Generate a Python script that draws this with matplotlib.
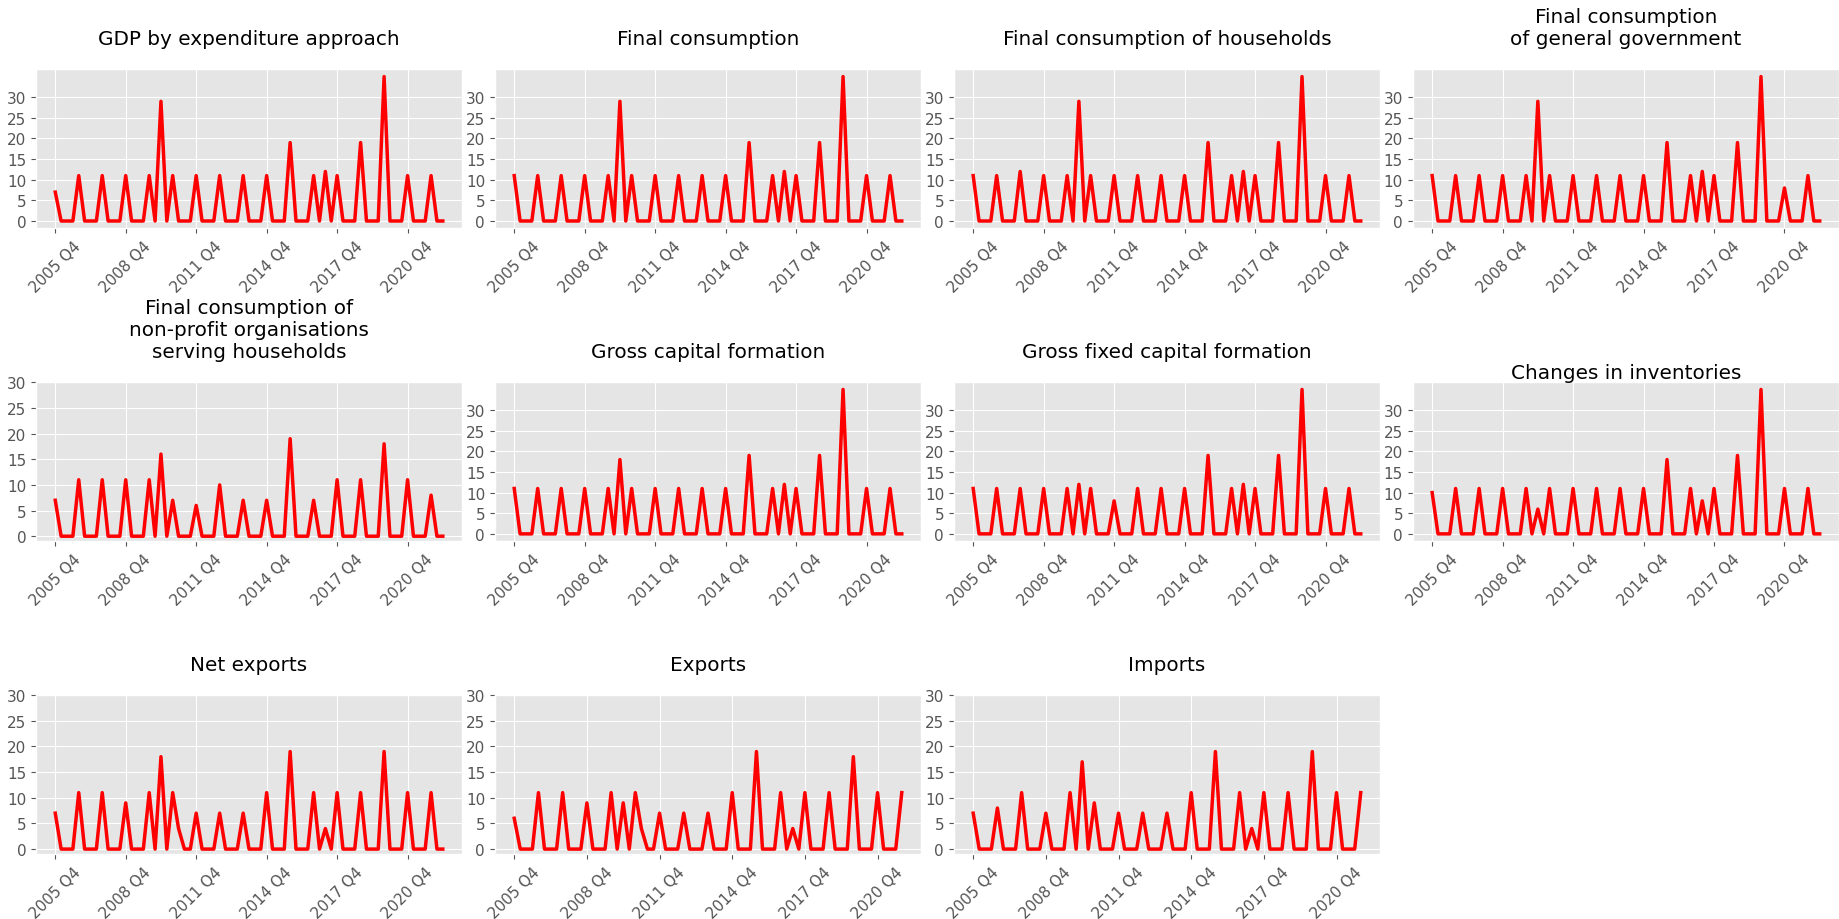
import matplotlib
matplotlib.use("Agg")
import matplotlib.pyplot as plt

plt.style.use("ggplot")

# quarterly series, first point is 2005 Q4
gdp = [7, 0, 0, 0, 11, 0, 0, 0, 11, 0, 0, 0, 11, 0, 0, 0, 11, 0, 29, 0,
       11, 0, 0, 0, 11, 0, 0, 0, 11, 0, 0, 0, 11, 0, 0, 0, 11, 0, 0, 0,
       19, 0, 0, 0, 11, 0, 12, 0, 11, 0, 0, 0, 19, 0, 0, 0, 35, 0, 0, 0,
       11, 0, 0, 0, 11, 0, 0]
final_cons = [11, 0, 0, 0, 11, 0, 0, 0, 11, 0, 0, 0, 11, 0, 0, 0, 11, 0, 29, 0,
              11, 0, 0, 0, 11, 0, 0, 0, 11, 0, 0, 0, 11, 0, 0, 0, 11, 0, 0, 0,
              19, 0, 0, 0, 11, 0, 12, 0, 11, 0, 0, 0, 19, 0, 0, 0, 35, 0, 0, 0,
              11, 0, 0, 0, 11, 0, 0]
households = [11, 0, 0, 0, 11, 0, 0, 0, 12, 0, 0, 0, 11, 0, 0, 0, 11, 0, 29, 0,
              11, 0, 0, 0, 11, 0, 0, 0, 11, 0, 0, 0, 11, 0, 0, 0, 11, 0, 0, 0,
              19, 0, 0, 0, 11, 0, 12, 0, 11, 0, 0, 0, 19, 0, 0, 0, 35, 0, 0, 0,
              11, 0, 0, 0, 11, 0, 0]
government = [11, 0, 0, 0, 11, 0, 0, 0, 11, 0, 0, 0, 11, 0, 0, 0, 11, 0, 29, 0,
              11, 0, 0, 0, 11, 0, 0, 0, 11, 0, 0, 0, 11, 0, 0, 0, 11, 0, 0, 0,
              19, 0, 0, 0, 11, 0, 12, 0, 11, 0, 0, 0, 19, 0, 0, 0, 35, 0, 0, 0,
              8, 0, 0, 0, 11, 0, 0]
npish = [7, 0, 0, 0, 11, 0, 0, 0, 11, 0, 0, 0, 11, 0, 0, 0, 11, 0, 16, 0,
         7, 0, 0, 0, 6, 0, 0, 0, 10, 0, 0, 0, 7, 0, 0, 0, 7, 0, 0, 0,
         19, 0, 0, 0, 7, 0, 0, 0, 11, 0, 0, 0, 11, 0, 0, 0, 18, 0, 0, 0,
         11, 0, 0, 0, 8, 0, 0]
gcf = [11, 0, 0, 0, 11, 0, 0, 0, 11, 0, 0, 0, 11, 0, 0, 0, 11, 0, 18, 0,
       11, 0, 0, 0, 11, 0, 0, 0, 11, 0, 0, 0, 11, 0, 0, 0, 11, 0, 0, 0,
       19, 0, 0, 0, 11, 0, 12, 0, 11, 0, 0, 0, 19, 0, 0, 0, 35, 0, 0, 0,
       11, 0, 0, 0, 11, 0, 0]
gfcf = [11, 0, 0, 0, 11, 0, 0, 0, 11, 0, 0, 0, 11, 0, 0, 0, 11, 0, 12, 0,
        11, 0, 0, 0, 8, 0, 0, 0, 11, 0, 0, 0, 11, 0, 0, 0, 11, 0, 0, 0,
        19, 0, 0, 0, 11, 0, 12, 0, 11, 0, 0, 0, 19, 0, 0, 0, 35, 0, 0, 0,
        11, 0, 0, 0, 11, 0, 0]
inventories = [10, 0, 0, 0, 11, 0, 0, 0, 11, 0, 0, 0, 11, 0, 0, 0, 11, 0, 6, 0,
               11, 0, 0, 0, 11, 0, 0, 0, 11, 0, 0, 0, 11, 0, 0, 0, 11, 0, 0, 0,
               18, 0, 0, 0, 11, 0, 8, 0, 11, 0, 0, 0, 19, 0, 0, 0, 35, 0, 0, 0,
               11, 0, 0, 0, 11, 0, 0]
net_exports = [7, 0, 0, 0, 11, 0, 0, 0, 11, 0, 0, 0, 9, 0, 0, 0, 11, 0, 18, 0,
               11, 4, 0, 0, 7, 0, 0, 0, 7, 0, 0, 0, 7, 0, 0, 0, 11, 0, 0, 0,
               19, 0, 0, 0, 11, 0, 4, 0, 11, 0, 0, 0, 11, 0, 0, 0, 19, 0, 0, 0,
               11, 0, 0, 0, 11, 0, 0]
exports = [6, 0, 0, 0, 11, 0, 0, 0, 11, 0, 0, 0, 9, 0, 0, 0, 11, 0, 9, 0,
           11, 4, 0, 0, 7, 0, 0, 0, 7, 0, 0, 0, 7, 0, 0, 0, 11, 0, 0, 0,
           19, 0, 0, 0, 11, 0, 4, 0, 11, 0, 0, 0, 11, 0, 0, 0, 18, 0, 0, 0,
           11, 0, 0, 0, 11]
imports = [7, 0, 0, 0, 8, 0, 0, 0, 11, 0, 0, 0, 7, 0, 0, 0, 11, 0, 17, 0,
           9, 0, 0, 0, 7, 0, 0, 0, 7, 0, 0, 0, 7, 0, 0, 0, 11, 0, 0, 0,
           19, 0, 0, 0, 11, 0, 4, 0, 11, 0, 0, 0, 11, 0, 0, 0, 19, 0, 0, 0,
           11, 0, 0, 0, 11]

titles = ["GDP by expenditure approach", "Final consumption",
          "Final consumption of households",
          "Final consumption\nof general government",
          "Final consumption of\nnon-profit organisations\nserving households",
          "Gross capital formation", "Gross fixed capital formation",
          "Changes in inventories", "Net exports", "Exports", "Imports"]
series = [gdp, final_cons, households, government, npish, gcf, gfcf,
          inventories, net_exports, exports, imports]
title_pads = [18, 18, 18, 18, 18, 18, 18, 3, 18, 18, 18]

tick_labels = ["2005 Q4", "2008 Q4", "2011 Q4", "2014 Q4", "2017 Q4", "2020 Q4"]

fig, axes = plt.subplots(3, 4, figsize=(18.4, 9.2), dpi=100)
fig.subplots_adjust(left=0.0195, right=0.9995, top=0.9235, bottom=0.0707,
                    wspace=0.0766, hspace=0.97)
axes = axes.flatten()

for ax, name, values, pad in zip(axes, titles, series, title_pads):
    ax.plot(range(len(values)), values, color="red", linewidth=2.5)
    ax.set_title(name, pad=pad)
    ax.set_xticks(range(0, len(values), 12))
    ax.set_xticklabels(tick_labels, rotation=45)
    ax.set_yticks(range(0, 35, 5))
    ax.tick_params(labelsize=11)

axes[-1].axis("off")

fig.savefig("out.png", dpi=100)
